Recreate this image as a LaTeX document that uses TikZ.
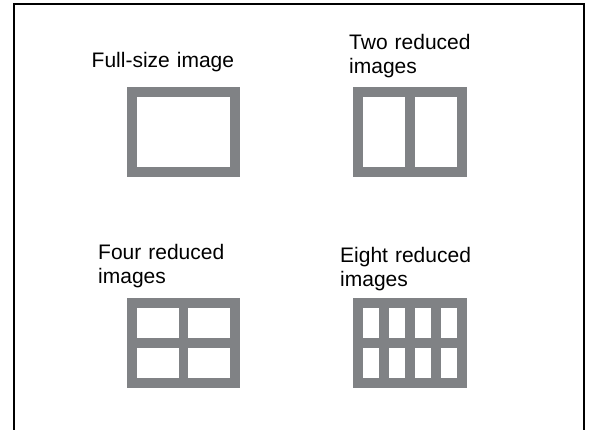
\documentclass[tikz,border=0pt]{standalone}
\usepackage{fontspec}
\setmainfont{Liberation Sans}
\definecolor{tilegray}{RGB}{128,130,133}
\tikzset{
  tile/.style={fill=tilegray},
  pane/.style={fill=white},
  caption/.style={anchor=base west, inner sep=0pt, text width=150pt, align=left,
    font=\fontsize{21}{23.5}\selectfont}
}
\begin{document}
\begin{tikzpicture}[x=1pt, y=-1pt]
  \useasboundingbox (0,0) rectangle (589,430);

  % frame, open at the bottom
  \draw[line width=2pt] (14.3,430) -- (14.3,3.8) -- (583.7,3.8) -- (583.7,430);

  % full-size image
  \fill[tile] (127,87) rectangle (240,177);
  \fill[pane] (137,97) rectangle (230,167);

  % two reduced images
  \fill[tile] (353,87) rectangle (467,177);
  \fill[pane] (363,97) rectangle (405,167);
  \fill[pane] (415,97) rectangle (457,167);

  % four reduced images
  \fill[tile] (127,298) rectangle (240,388);
  \foreach \x in {137,188}
    \foreach \y in {308,348}
      \fill[pane] (\x,\y) rectangle ++(42,30);

  % eight reduced images
  \fill[tile] (353,298) rectangle (467,388);
  \foreach \x in {363,389,415,441}
    \foreach \y in {308,348}
      \fill[pane] (\x,\y) rectangle ++(16,30);

  \node[caption] (full)  at (91.5,68)  {Full-size image};
  \node[caption] (two)   at (349,50)   {Two reduced\\images};
  \node[caption] (four)  at (98,260)   {Four reduced\\images};
  \node[caption] (eight) at (340,263)  {Eight reduced\\images};
\end{tikzpicture}
\end{document}
